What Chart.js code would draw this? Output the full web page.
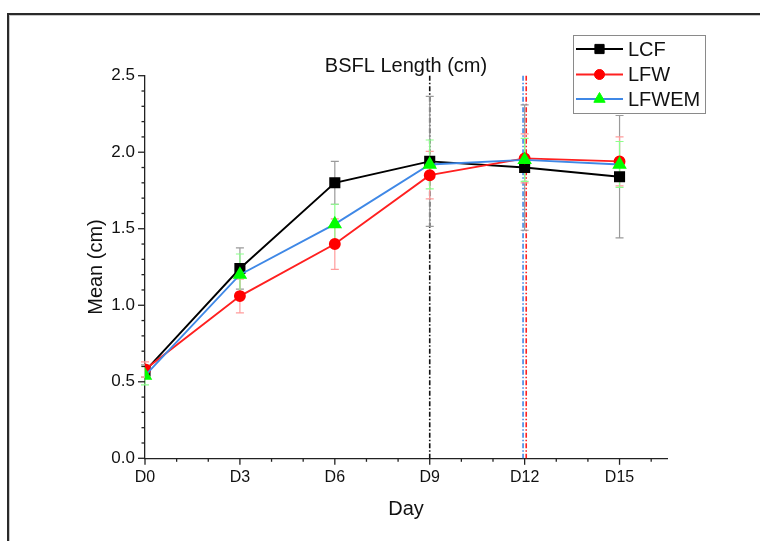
<!DOCTYPE html>
<html>
<head>
<meta charset="utf-8">
<script src="https://cdn.jsdelivr.net/npm/chart.js@4.4.1/dist/chart.umd.min.js"></script>
<style>
html,body{margin:0;padding:0;background:#fff;}
#wrap{position:relative;width:760px;height:541px;}
canvas{display:block;}
</style>
</head>
<body>
<div id="wrap"><canvas id="c" width="760" height="541"></canvas></div>
<script>
// ---- data ----
const days = [0, 3, 6, 9, 12, 15];
const xTickValues = [0, 3, 6, 9, 12, 15];
const xTickLabels = ['D0', 'D3', 'D6', 'D9', 'D12', 'D15'];
const yTickValues = [0, 0.5, 1.0, 1.5, 2.0, 2.5];
const seriesNames = ['LCF', 'LFW', 'LFWEM'];
const lcf      = [0.57, 1.24, 1.80, 1.94, 1.90, 1.84];
const lcfErr   = [0.04, 0.135, 0.14, 0.425, 0.41, 0.40];
const lfw      = [0.58, 1.06, 1.40, 1.85, 1.96, 1.94];
const lfwErr   = [0.05, 0.11, 0.165, 0.155, 0.16, 0.16];
const lfwem    = [0.54, 1.20, 1.53, 1.92, 1.95, 1.92];
const lfwemErr = [0.06, 0.135, 0.13, 0.16, 0.14, 0.15];
const vLineDays = [9, 11.95, 12.05];
const vLineColors = ['#111111', '#3f88e6', '#ff2020'];
const titleText = 'BSFL Length (cm)';

const FONT = "'Liberation Sans', Arial, sans-serif";

function pts(vals){ return days.map((d,i)=>({x:d, y:vals[i]})); }

const datasets = [
  {label: seriesNames[0], data: pts(lcf), err: lcfErr, errColor:'#9a9a9a',
   borderColor:'#000000', backgroundColor:'#000000', pointBackgroundColor:'#000000', pointBorderColor:'#000000',
   pointStyle:'rect', pointRadius:6.5, borderWidth:1.9, order:3},
  {label: seriesNames[1], data: pts(lfw), err: lfwErr, errColor:'#ff9c9c',
   borderColor:'#ff2020', backgroundColor:'#ff0000', pointBackgroundColor:'#ff0000', pointBorderColor:'#ff0000',
   pointStyle:'circle', pointRadius:5, borderWidth:1.9, order:2},
  {label: seriesNames[2], data: pts(lfwem), err: lfwemErr, errColor:'#8cff8c',
   borderColor:'#3f88e6', backgroundColor:'#00ff00', pointBackgroundColor:'#00ff00', pointBorderColor:'#00ff00',
   pointStyle:'triangle', pointRadius:6.5, borderWidth:1.9, order:1}
];

const decor = {
  id:'decor',
  beforeDraw(chart){
    const ctx = chart.ctx;
    ctx.save();
    ctx.strokeStyle = '#c8c8c8'; ctx.lineWidth = 1;
    ctx.strokeRect(9.5, 15.5, 900, 700);
    ctx.strokeStyle = '#2a2a2a'; ctx.lineWidth = 2;
    ctx.strokeRect(8, 14, 900, 700);
    ctx.restore();
  },
  beforeDatasetsDraw(chart){
    const ctx = chart.ctx, xs = chart.scales.x, ys = chart.scales.y, a = chart.chartArea;
    ctx.save();
    ctx.lineWidth = 1.6;
    ctx.setLineDash([5, 2, 1.5, 2]);
    vLineDays.forEach((d,i)=>{
      const px = xs.getPixelForValue(d);
      ctx.strokeStyle = vLineColors[i];
      ctx.beginPath(); ctx.moveTo(px, a.top); ctx.lineTo(px, a.bottom); ctx.stroke();
    });
    ctx.setLineDash([]);
    chart.data.datasets.forEach(ds=>{
      ctx.strokeStyle = ds.errColor; ctx.lineWidth = 1.2;
      ds.data.forEach((p,i)=>{
        const px = xs.getPixelForValue(p.x);
        const t = ys.getPixelForValue(p.y + ds.err[i]);
        const b = ys.getPixelForValue(p.y - ds.err[i]);
        ctx.beginPath();
        ctx.moveTo(px, t); ctx.lineTo(px, b);
        ctx.moveTo(px-4, t); ctx.lineTo(px+4, t);
        ctx.moveTo(px-4, b); ctx.lineTo(px+4, b);
        ctx.stroke();
      });
    });
    ctx.restore();
  },
  afterDraw(chart){
    const ctx = chart.ctx, xs = chart.scales.x, ys = chart.scales.y, a = chart.chartArea;
    ctx.save();
    ctx.strokeStyle = '#222'; ctx.lineWidth = 1.3;
    for (let k=0;k<=25;k++){
      const v = k/10, py = ys.getPixelForValue(v);
      const len = (k%5===0) ? 7 : 3.5;
      ctx.beginPath(); ctx.moveTo(a.left, py); ctx.lineTo(a.left-len, py); ctx.stroke();
    }
    for (let d=0; d<=16; d++){
      const px = xs.getPixelForValue(d);
      const len = (d%3===0) ? 6.5 : 3.5;
      ctx.beginPath(); ctx.moveTo(px, a.bottom); ctx.lineTo(px, a.bottom+len); ctx.stroke();
    }
    ctx.fillStyle = '#111';
    ctx.font = '20px ' + FONT;
    ctx.textAlign = 'center'; ctx.textBaseline = 'middle';
    ctx.fillText(titleText, (a.left+a.right)/2, 66);
    const bx = 573.5, by = 35.5, bw = 132, bh = 78;
    ctx.fillStyle = '#fff'; ctx.fillRect(bx, by, bw, bh);
    ctx.strokeStyle = '#8a8a8a'; ctx.lineWidth = 1;
    ctx.strokeRect(bx, by, bw, bh);
    const rows = [49, 74.5, 99];
    chart.data.datasets.forEach((ds,i)=>{
      const y = rows[i];
      ctx.strokeStyle = ds.borderColor; ctx.lineWidth = 1.9;
      ctx.beginPath(); ctx.moveTo(576, y); ctx.lineTo(623, y); ctx.stroke();
      ctx.fillStyle = ds.pointBackgroundColor; ctx.strokeStyle = ds.pointBorderColor; ctx.lineWidth = 1;
      Chart.helpers.drawPoint(ctx, {pointStyle: ds.pointStyle, radius: ds.pointRadius, rotation:0, borderWidth:1}, 599.5, y);
      ctx.fillStyle = '#111'; ctx.font = '20px ' + FONT;
      ctx.textAlign = 'left'; ctx.textBaseline = 'middle';
      ctx.fillText(ds.label, 628, y+1);
    });
    ctx.restore();
  }
};

new Chart(document.getElementById('c'), {
  type: 'line',
  data: { datasets },
  options: {
    responsive: false,
    animation: false,
    devicePixelRatio: 1,
    layout: { padding: { top: 75.7, right: 93, bottom: 0, left: 0 } },
    plugins: { legend: {display:false}, tooltip: {enabled:false}, title:{display:false} },
    elements: { line: { tension: 0 } },
    scales: {
      x: {
        type: 'linear', min: 0, max: 16.5,
        grid: { display:false, drawTicks:false },
        border: { display:true, color:'#222', width:1.3 },
        afterBuildTicks: (s)=>{ s.ticks = xTickValues.map(v=>({value:v})); },
        afterFit: (s)=>{ s.height = 82.7; },
        ticks: {
          padding: 10, color:'#111', font:{family:FONT, size:16},
          maxRotation:0, autoSkip:false,
          callback: (v)=>{ const i = xTickValues.indexOf(v); return i>=0 ? xTickLabels[i] : ''; }
        },
        title: { display:true, text:'Day', color:'#111', font:{family:FONT, size:20}, padding:{top:20, bottom:20} }
      },
      y: {
        type: 'linear', min: 0, max: 2.5,
        grid: { display:false, drawTicks:false },
        border: { display:true, color:'#222', width:1.3 },
        afterBuildTicks: (s)=>{ s.ticks = yTickValues.map(v=>({value:v})); },
        afterFit: (s)=>{ s.width = 145; },
        ticks: {
          padding: 10, color:'#111', font:{family:FONT, size:17},
          callback: (v)=> Number(v).toFixed(1)
        },
        title: { display:true, text:'Mean (cm)', color:'#111', font:{family:FONT, size:20}, padding:{top:84, bottom:84} }
      }
    }
  },
  plugins: [decor]
});
</script>
</body>
</html>
